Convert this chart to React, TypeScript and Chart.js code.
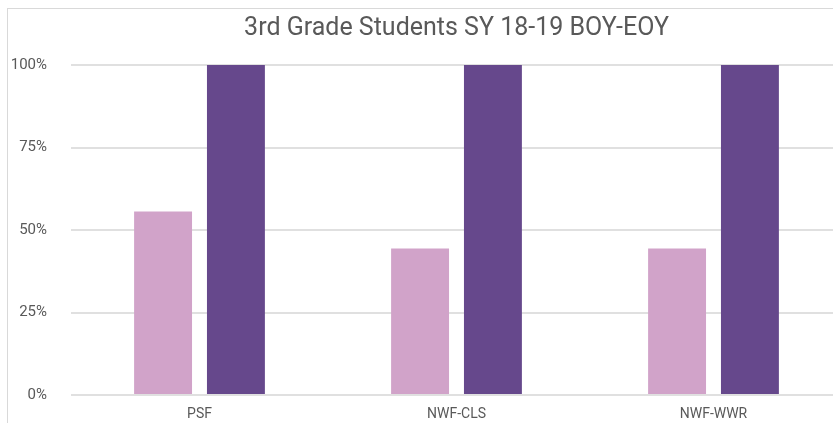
import React, { useEffect, useRef } from "react";
import { Chart, registerables } from "chart.js";

Chart.register(...registerables);

const TITLE = "3rd Grade Students SY 18-19 BOY-EOY";
const CATEGORIES = ["PSF", "NWF-CLS", "NWF-WWR"];
const BOY_VALUES = [0.556, 0.444, 0.444];
const EOY_VALUES = [1.0, 1.0, 1.0];
const Y_TICKS = [0, 0.25, 0.5, 0.75, 1];

const FONT = "Roboto, 'Liberation Sans', sans-serif";
const TEXT_COLOR = "#595959";

const CANVAS_W = 850;
const CANVAS_H = 430;

export default function App() {
  const canvasRef = useRef<HTMLCanvasElement | null>(null);

  useEffect(() => {
    document.body.style.margin = "0";
    const canvas = canvasRef.current;
    if (!canvas) return;

    const titlePlugin = {
      id: "centerTitle",
      afterDraw(chart: any) {
        const { ctx, chartArea } = chart;
        ctx.save();
        ctx.fillStyle = TEXT_COLOR;
        ctx.font = `25px ${FONT}`;
        ctx.textAlign = "center";
        ctx.textBaseline = "alphabetic";
        ctx.fillText(TITLE, (chartArea.left + chartArea.right) / 2, 25.5);
        ctx.restore();
      },
    };

    const chart = new Chart(canvas, {
      type: "bar",
      data: {
        labels: CATEGORIES,
        datasets: [
          {
            label: "BOY",
            data: BOY_VALUES,
            backgroundColor: "#d1a3c9",
            categoryPercentage: 0.567,
            barPercentage: 0.795,
          },
          {
            label: "EOY",
            data: EOY_VALUES,
            backgroundColor: "#66488c",
            categoryPercentage: 0.567,
            barPercentage: 0.795,
          },
        ],
      },
      options: {
        responsive: false,
        animation: false,
        layout: { padding: { left: 0, right: 16, top: 56, bottom: 0 } },
        plugins: {
          legend: { display: false },
          title: { display: false },
          tooltip: { enabled: false },
        },
        scales: {
          x: {
            grid: { display: false },
            border: { display: false },
            ticks: {
              color: TEXT_COLOR,
              font: { family: FONT, size: 14 },
              padding: 3,
            },
            afterFit: (scale: any) => {
              scale.height = 44;
            },
          },
          y: {
            min: 0,
            max: 1,
            afterBuildTicks: (scale: any) => {
              scale.ticks = Y_TICKS.map((v) => ({ value: v }));
            },
            grid: { color: "#e0e0e0", lineWidth: 2, drawTicks: false },
            border: { display: false },
            ticks: {
              color: TEXT_COLOR,
              font: { family: FONT, size: 15 },
              padding: 24,
              callback: (v: any) => `${Math.round(Number(v) * 100)}%`,
            },
            afterFit: (scale: any) => {
              scale.width = 63;
            },
          },
        },
      },
      plugins: [titlePlugin],
    });

    return () => chart.destroy();
  }, []);

  return (
    <div
      style={{
        position: "relative",
        width: 833,
        height: 423,
        overflow: "hidden",
        background: "#fff",
      }}
    >
      <div
        style={{
          position: "absolute",
          left: 7,
          top: 8,
          width: 900,
          height: 500,
          border: "1px solid #d9d9d9",
          boxSizing: "border-box",
        }}
      />
      <canvas
        ref={canvasRef}
        width={CANVAS_W}
        height={CANVAS_H}
        style={{
          position: "absolute",
          left: 8,
          top: 9,
          width: CANVAS_W,
          height: CANVAS_H,
        }}
      />
    </div>
  );
}
